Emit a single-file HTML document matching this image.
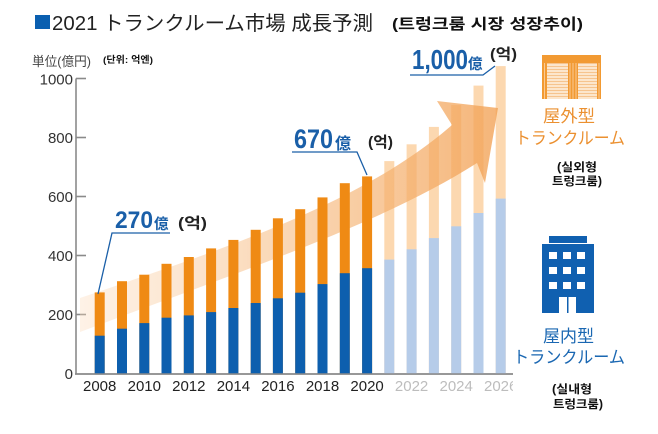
<!DOCTYPE html>
<html><head><meta charset="utf-8"><style>
html,body{margin:0;padding:0;background:#fff;}
svg{display:block;}
text{font-family:"Liberation Sans","Noto Sans CJK JP",sans-serif;}
.kr{font-family:"Liberation Sans","Noto Sans CJK KR",sans-serif;font-weight:bold;}
</style></head><body>
<svg width="658" height="434" viewBox="0 0 658 434" xmlns="http://www.w3.org/2000/svg">
<defs>
<linearGradient id="ag" x1="80" y1="0" x2="500" y2="0" gradientUnits="userSpaceOnUse">
<stop offset="0" stop-color="#fbd9b8" stop-opacity="0.35"/>
<stop offset="0.45" stop-color="#f7c08a" stop-opacity="0.6"/>
<stop offset="1" stop-color="#f2a052" stop-opacity="0.78"/>
</linearGradient>
<pattern id="stripe" width="4" height="3" patternUnits="userSpaceOnUse">
<rect width="4" height="3" fill="#fce6cc"/>
<rect width="4" height="1" fill="#f6c48e"/>
</pattern>
<clipPath id="xc"><rect x="0" y="370" width="513" height="40"/></clipPath>
</defs>

<!-- Title -->
<rect x="35" y="15" width="15" height="14" fill="#0a5fb0"/>
<text x="52" y="30" font-size="20" fill="#222" textLength="321" lengthAdjust="spacingAndGlyphs">2021 トランクルーム市場 成長予測</text>
<text class="kr" x="392" y="29" font-size="15" fill="#111" textLength="191" lengthAdjust="spacingAndGlyphs">(트렁크룸 시장 성장추이)</text>

<text x="32" y="66" font-size="13" fill="#444" textLength="59" lengthAdjust="spacingAndGlyphs">単位(億円)</text>
<text class="kr" x="103" y="63" font-size="9.5" fill="#111" textLength="50" lengthAdjust="spacingAndGlyphs">(단위: 억엔)</text>

<!-- Axes -->
<g stroke="#8a8a8a" stroke-width="1.6" fill="none">
<line x1="76" y1="78.5" x2="76" y2="374"/>
<line x1="75" y1="374" x2="513" y2="374"/>
<line x1="76" y1="78.5" x2="86" y2="78.5"/>
<line x1="76" y1="137.5" x2="86" y2="137.5"/>
<line x1="76" y1="196.5" x2="86" y2="196.5"/>
<line x1="76" y1="255.5" x2="86" y2="255.5"/>
<line x1="76" y1="314.5" x2="86" y2="314.5"/>
</g>
<g font-size="15" fill="#333" text-anchor="end">
<text x="73" y="84.5">1000</text>
<text x="73" y="143">800</text>
<text x="73" y="202">600</text>
<text x="73" y="261">400</text>
<text x="73" y="320">200</text>
<text x="73" y="379">0</text>
</g>

<!-- Future bars -->
<g>
<rect x="384.3" y="161.1" width="10" height="212.4" fill="#fcd8b0"/><rect x="384.3" y="259.6" width="10" height="113.9" fill="#b6cce9"/>
<rect x="406.6" y="144.3" width="10" height="229.2" fill="#fcd8b0"/><rect x="406.6" y="249.3" width="10" height="124.2" fill="#b6cce9"/>
<rect x="428.9" y="126.9" width="10" height="246.6" fill="#fcd8b0"/><rect x="428.9" y="238.1" width="10" height="135.4" fill="#b6cce9"/>
<rect x="451.2" y="105.1" width="10" height="268.4" fill="#fcd8b0"/><rect x="451.2" y="226.3" width="10" height="147.2" fill="#b6cce9"/>
<rect x="473.5" y="85.6" width="10" height="287.9" fill="#fcd8b0"/><rect x="473.5" y="213.0" width="10" height="160.5" fill="#b6cce9"/>
<rect x="495.7" y="66.1" width="10" height="307.4" fill="#fcd8b0"/><rect x="495.7" y="198.6" width="10" height="174.9" fill="#b6cce9"/>
</g>

<!-- Arrow -->
<path d="M80,298 C220,250 360,205 452,125 L437,101 L498,108 L485,183 L477,163 C380,225 230,275 80,332 Z" fill="url(#ag)"/>

<!-- Past bars -->
<g>
<rect x="94.7" y="292.4" width="10" height="81.1" fill="#ef8a14"/><rect x="94.7" y="335.7" width="10" height="37.8" fill="#0d5fae"/>
<rect x="117.0" y="281.2" width="10" height="92.3" fill="#ef8a14"/><rect x="117.0" y="328.7" width="10" height="44.8" fill="#0d5fae"/>
<rect x="139.3" y="274.7" width="10" height="98.8" fill="#ef8a14"/><rect x="139.3" y="323.1" width="10" height="50.4" fill="#0d5fae"/>
<rect x="161.5" y="263.8" width="10" height="109.7" fill="#ef8a14"/><rect x="161.5" y="317.7" width="10" height="55.8" fill="#0d5fae"/>
<rect x="183.8" y="257.0" width="10" height="116.5" fill="#ef8a14"/><rect x="183.8" y="315.4" width="10" height="58.1" fill="#0d5fae"/>
<rect x="206.1" y="248.4" width="10" height="125.1" fill="#ef8a14"/><rect x="206.1" y="312.1" width="10" height="61.4" fill="#0d5fae"/>
<rect x="228.4" y="239.9" width="10" height="133.6" fill="#ef8a14"/><rect x="228.4" y="308.0" width="10" height="65.5" fill="#0d5fae"/>
<rect x="250.7" y="229.8" width="10" height="143.7" fill="#ef8a14"/><rect x="250.7" y="303.0" width="10" height="70.5" fill="#0d5fae"/>
<rect x="272.9" y="218.3" width="10" height="155.2" fill="#ef8a14"/><rect x="272.9" y="298.3" width="10" height="75.2" fill="#0d5fae"/>
<rect x="295.2" y="209.2" width="10" height="164.3" fill="#ef8a14"/><rect x="295.2" y="292.7" width="10" height="80.8" fill="#0d5fae"/>
<rect x="317.5" y="197.4" width="10" height="176.1" fill="#ef8a14"/><rect x="317.5" y="284.1" width="10" height="89.4" fill="#0d5fae"/>
<rect x="339.8" y="183.2" width="10" height="190.3" fill="#ef8a14"/><rect x="339.8" y="273.2" width="10" height="100.3" fill="#0d5fae"/>
<rect x="362.1" y="176.4" width="10" height="197.1" fill="#ef8a14"/><rect x="362.1" y="268.2" width="10" height="105.3" fill="#0d5fae"/>
</g>
<line x1="75" y1="374" x2="513" y2="374" stroke="#8a8a8a" stroke-width="1.6"/>

<!-- X labels -->
<g font-size="15" text-anchor="middle" clip-path="url(#xc)">
<text x="99.7" y="391" fill="#222">2008</text>
<text x="144.3" y="391" fill="#222">2010</text>
<text x="188.8" y="391" fill="#222">2012</text>
<text x="233.4" y="391" fill="#222">2014</text>
<text x="277.9" y="391" fill="#222">2016</text>
<text x="322.5" y="391" fill="#222">2018</text>
<text x="367.1" y="391" fill="#222">2020</text>
<text x="411.6" y="391" fill="#bdbdbd">2022</text>
<text x="456.2" y="391" fill="#bdbdbd">2024</text>
<text x="500.7" y="391" fill="#bdbdbd">2026</text>
</g>

<!-- Annotations -->
<g fill="#1a5fa8" font-weight="bold">
<text x="115" y="228" font-size="24" textLength="38" lengthAdjust="spacingAndGlyphs">270</text>
<text x="154" y="229" font-size="14.5">億</text>
<text x="294" y="148" font-size="27" textLength="39" lengthAdjust="spacingAndGlyphs">670</text>
<text x="335" y="149" font-size="16">億</text>
<text x="412" y="69" font-size="28" textLength="56" lengthAdjust="spacingAndGlyphs">1,000</text>
<text x="468" y="69" font-size="14.5">億</text>
</g>
<g stroke="#1a5fa8" stroke-width="1.3" fill="none">
<polyline points="170,233 112,233 98,294"/>
<polyline points="292,152 357,152 367,175"/>
<polyline points="410,75 483,75 495,66"/>
</g>
<g class="kr" fill="#222" font-size="15">
<text class="kr" x="178" y="228" textLength="29" lengthAdjust="spacingAndGlyphs">(억)</text>
<text class="kr" x="368" y="147" textLength="25" lengthAdjust="spacingAndGlyphs">(억)</text>
<text class="kr" x="490" y="59" textLength="27" lengthAdjust="spacingAndGlyphs">(억)</text>
</g>

<!-- Orange icon -->
<rect x="542" y="55" width="59" height="44" fill="#f29a32"/>
<rect x="547" y="63" width="21" height="36" fill="url(#stripe)"/>
<rect x="578" y="63" width="19" height="36" fill="url(#stripe)"/>
<g stroke="#fbd7ae" stroke-width="0.8">
<line x1="570" y1="63" x2="570" y2="99"/><line x1="573" y1="63" x2="573" y2="99"/><line x1="576" y1="63" x2="576" y2="99"/>
<line x1="544.5" y1="63" x2="544.5" y2="99"/><line x1="599" y1="63" x2="599" y2="99"/>
</g>
<text x="543" y="122" font-size="17" fill="#eb9030" textLength="52" lengthAdjust="spacingAndGlyphs">屋外型</text>
<text x="515" y="144" font-size="17" fill="#eb9030" textLength="110" lengthAdjust="spacingAndGlyphs">トランクルーム</text>
<text class="kr" x="557" y="171" font-size="11.5" fill="#111" textLength="40" lengthAdjust="spacingAndGlyphs">(실외형</text>
<text class="kr" x="552" y="185" font-size="11.5" fill="#111" textLength="50" lengthAdjust="spacingAndGlyphs">트렁크룸)</text>

<!-- Blue building icon -->
<rect x="549" y="236" width="38" height="7" fill="#1060b0"/>
<rect x="542" y="244" width="52" height="69" fill="#1060b0"/>
<g fill="#fff">
<rect x="549" y="252" width="8" height="7"/><rect x="563" y="252" width="8" height="7"/><rect x="577" y="252" width="8" height="7"/>
<rect x="549" y="267" width="8" height="7"/><rect x="563" y="267" width="8" height="7"/><rect x="577" y="267" width="8" height="7"/>
<rect x="549" y="282" width="8" height="7"/><rect x="563" y="282" width="8" height="7"/><rect x="577" y="282" width="8" height="7"/>
<rect x="559" y="297" width="17" height="16"/>
</g>
<rect x="567" y="297" width="1.5" height="16" fill="#1060b0"/>
<text x="543" y="342" font-size="17" fill="#1a67b2" textLength="51" lengthAdjust="spacingAndGlyphs">屋内型</text>
<text x="513" y="363" font-size="17" fill="#1a67b2" textLength="112" lengthAdjust="spacingAndGlyphs">トランクルーム</text>
<text class="kr" x="552" y="393" font-size="11.5" fill="#111" textLength="40" lengthAdjust="spacingAndGlyphs">(실내형</text>
<text class="kr" x="553" y="408" font-size="11.5" fill="#111" textLength="50" lengthAdjust="spacingAndGlyphs">트렁크룸)</text>
</svg>
</body></html>
